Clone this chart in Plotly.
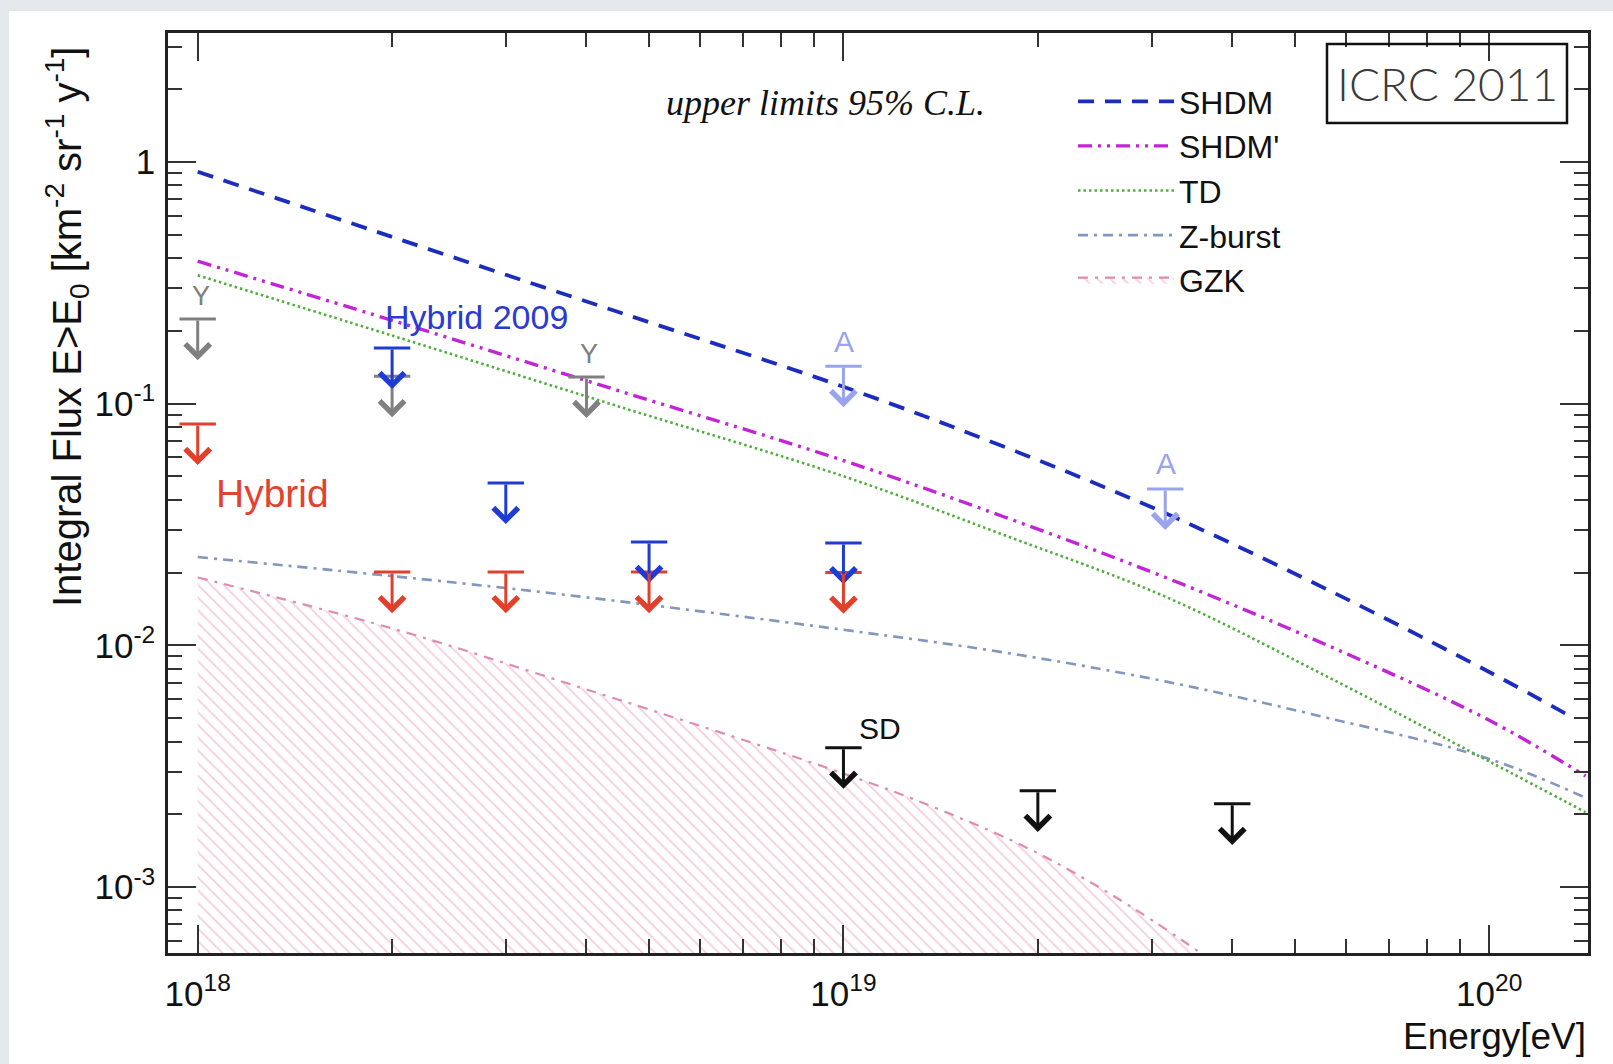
import math
import plotly.graph_objects as go

# ---------------- data ----------------
# model curves: energy [eV] and integral flux [km^-2 sr^-1 y^-1]
shdm_E = [1e18, 2e18, 4.47e18, 1e19, 1.78e19, 3.16e19, 5.62e19, 1e20, 1.35e20]
shdm_F = [0.912, 0.490, 0.240, 0.1175, 0.0661, 0.0351, 0.0170, 0.00776, 0.00501]

shdmp_E = [1e18, 2e18, 4.47e18, 1e19, 1.78e19, 3.16e19, 5.62e19, 1e20, 1.41e20]
shdmp_F = [0.389, 0.2213, 0.1135, 0.0582, 0.0339, 0.01905, 0.0100, 0.0049, 0.00288]

td_E = [1e18, 2e18, 4.47e18, 1e19, 1.78e19, 3.16e19, 5.62e19, 1e20, 1.41e20]
td_F = [0.340, 0.1914, 0.0977, 0.0501, 0.0285, 0.01585, 0.00741, 0.00331, 0.00204]

zb_E = [1e18, 3.16e18, 1e19, 1.78e19, 3.16e19, 5.62e19, 1e20, 1.41e20]
zb_F = [0.0232, 0.0170, 0.0116, 0.00933, 0.00708, 0.00501, 0.00339, 0.00234]

gzk_E = [1e18, 2e18, 3.98e18, 1e19, 1.41e19, 2e19, 2.82e19, 3.98e19]
gzk_F = [0.0191, 0.01175, 0.0066, 0.00295, 0.00209, 0.00138, 0.000813, 0.000437]
gzk_floor = [1e-5] * len(gzk_E)

# upper limits (95% C.L.)
yak_E = [1e18, 2e18, 4e18]
yak_F = [0.224, 0.13, 0.129]
yak_lab = ["Y", "", "Y"]

agasa_E = [1e19, 3.15e19]
agasa_F = [0.143, 0.0444]
agasa_lab = ["A", "A"]

hyb09_E = [2e18, 3e18, 5e18, 1e19]
hyb09_F = [0.17, 0.047, 0.0268, 0.0265]

hyb_E = [1e18, 2e18, 3e18, 5e18, 1e19]
hyb_F = [0.0824, 0.0201, 0.0201, 0.0201, 0.0200]

sd_E = [1e19, 2e19, 4e19]
sd_F = [0.00377, 0.00250, 0.00221]

x_tickvals = [1e18, 1e19, 1e20]
x_ticktext = ["10<sup>18</sup>", "10<sup>19</sup>", "10<sup>20</sup>"]
y_tickvals = [1e-3, 1e-2, 1e-1, 1.0]
y_ticktext = ["10<sup>-3</sup>", "10<sup>-2</sup>", "10<sup>-1</sup>", "1"]
x_minor = [m * 10.0 ** d for d in (17, 18, 19, 20) for m in range(2, 10)]
y_minor = [m * 10.0 ** d for d in (-4, -3, -2, -1, 0) for m in range(2, 10)]

# ---------------- style ----------------
SANS = "Liberation Sans, Arial, Helvetica, sans-serif"
SERIF = "Liberation Serif, Times New Roman, serif"
C_SHDM = "#1c2dbd"
C_SHDMP = "#c224d6"
C_TD = "#4fae3c"
C_ZB = "#8396bd"
C_GZK = "#e08bb2"
C_RED = "#e2402c"
C_BLUE = "#1f3bd6"
C_GRAY = "#808080"
C_ABLUE = "#9aa4ec"
C_BLACK = "#111111"
ARROW_DEC = 0.17  # arrow length in decades of flux

fig = go.Figure()

# GZK hatched band (filled down to below the axis)
fig.add_trace(go.Scatter(x=gzk_E, y=gzk_floor, mode="lines", line=dict(width=0),
                         showlegend=False, hoverinfo="skip"))
fig.add_trace(go.Scatter(
    x=gzk_E, y=gzk_F, mode="lines", name="GZK", legendrank=5,
    line=dict(color=C_GZK, width=2.2, dash="10px,7px,3px,7px", shape="spline"),
    fill="tonexty", fillcolor="rgba(255,255,255,0)",
    fillpattern=dict(shape="\\", fgcolor="#e99bbd", bgcolor="rgba(255,255,255,0)",
                     size=9, solidity=0.2, fillmode="overlay"),
    hoverinfo="skip"))

fig.add_trace(go.Scatter(x=zb_E, y=zb_F, mode="lines", name="Z-burst", legendrank=4,
                         line=dict(color=C_ZB, width=2.6, dash="10px,6px,3px,6px", shape="spline")))
fig.add_trace(go.Scatter(x=td_E, y=td_F, mode="lines", name="TD", legendrank=3,
                         line=dict(color=C_TD, width=2.6, dash="2.5px,3px", shape="spline")))
fig.add_trace(go.Scatter(x=shdmp_E, y=shdmp_F, mode="lines", name="SHDM'", legendrank=2,
                         line=dict(color=C_SHDMP, width=3.4, dash="14px,6px,3px,6px,3px,6px",
                                   shape="spline")))
fig.add_trace(go.Scatter(x=shdm_E, y=shdm_F, mode="lines", name="SHDM", legendrank=1,
                         line=dict(color=C_SHDM, width=3.8, dash="16px,11px", shape="spline")))


def add_limits(E, F, color):
    fig.add_trace(go.Scatter(
        x=E, y=F, mode="markers", showlegend=False, hoverinfo="skip",
        marker=dict(symbol="line-ew", size=26, color=color, line=dict(width=3, color=color))))
    for e, f in zip(E, F):
        fig.add_annotation(
            x=math.log10(e), y=math.log10(f) - ARROW_DEC, xref="x", yref="y",
            ax=math.log10(e), ay=math.log10(f), axref="x", ayref="y",
            text="", showarrow=True, arrowhead=4, arrowsize=1.6, arrowwidth=3,
            arrowcolor=color, standoff=0, startstandoff=0)


def add_labels(E, F, labels, color, size, xshift, yshift):
    for e, f, t in zip(E, F, labels):
        if t:
            fig.add_annotation(x=math.log10(e), y=math.log10(f), xref="x", yref="y",
                               text=t, showarrow=False, xshift=xshift, yshift=yshift,
                               xanchor="center", yanchor="middle",
                               font=dict(family=SANS, size=size, color=color))


add_limits(yak_E, yak_F, C_GRAY)
add_labels(yak_E, yak_F, yak_lab, C_GRAY, 27, 3, 23)
add_limits(agasa_E, agasa_F, C_ABLUE)
add_labels(agasa_E, agasa_F, agasa_lab, C_ABLUE, 30, 1, 25)
add_limits(hyb09_E, hyb09_F, C_BLUE)
add_limits(hyb_E, hyb_F, C_RED)
add_limits(sd_E, sd_F, C_BLACK)
add_labels(sd_E[:1], sd_F[:1], ["SD"], C_BLACK, 30, 37, 19)

# ---------------- text ----------------
W, H = 1613, 1064
L, R, T, B = 168, 1588, 33, 953


def px(xp):
    return (xp - L) / (R - L)


def py(yp):
    return (B - yp) / (B - T)


def paper_text(x, y, text, font, **kw):
    opts = dict(xanchor="center", yanchor="middle")
    opts.update(kw)
    fig.add_annotation(x=px(x), y=py(y), xref="paper", yref="paper", showarrow=False,
                       text=text, font=font, **opts)


paper_text(825, 103, "<i>upper limits 95% C.L.</i>", dict(family=SERIF, size=36, color="#111"))
paper_text(476, 317, "Hybrid 2009", dict(family=SANS, size=34, color="#2a3ad2"))
paper_text(272, 493, "Hybrid", dict(family=SANS, size=39, color="#e2432f"))
paper_text(67, 327,
           "Integral Flux E>E<sub>0</sub> [km<sup>-2</sup> sr<sup>-1</sup> y<sup>-1</sup>]",
           dict(family=SANS, size=40, color="#111"), textangle=-90)
paper_text(R, 1036, "Energy[eV]", dict(family=SANS, size=37, color="#111"), xanchor="right")

# ICRC 2011 box
fig.add_shape(type="rect", xref="paper", yref="paper", x0=px(1327), x1=px(1567),
              y0=py(123), y1=py(44), line=dict(color="#111", width=2.5),
              fillcolor="rgba(0,0,0,0)", layer="above")
paper_text(1447, 84, "ICRC 2011",
           dict(family="Lato, Open Sans, sans-serif", size=46, color="#3a3a3a", weight=300))

# page: grey strips on top/left, white sheet
fig.add_shape(type="rect", xref="paper", yref="paper", x0=px(9), x1=px(W + 5),
              y0=py(H + 5), y1=py(11), fillcolor="white", line=dict(width=0), layer="below")

axis_common = dict(
    type="log", showline=True, linecolor="#222", linewidth=2.5, mirror="ticks",
    ticks="inside", ticklen=28, tickwidth=2, tickcolor="#333", showgrid=False,
    zeroline=False, tickfont=dict(family=SANS, size=35, color="#111"),
)

fig.update_layout(
    width=W, height=H,
    margin=dict(l=L, r=W - R, t=T, b=H - B),
    paper_bgcolor="#e5e8eb", plot_bgcolor="white",
    xaxis=dict(**axis_common, range=[17.954, 20.153], tickmode="array",
               tickvals=x_tickvals, ticktext=x_ticktext, ticklabelstandoff=8,
               minor=dict(tickmode="array", tickvals=x_minor, ticks="inside", ticklen=14,
                          tickwidth=2, tickcolor="#333", showgrid=False)),
    yaxis=dict(**axis_common, range=[-3.273, 0.534], tickmode="array",
               tickvals=y_tickvals, ticktext=y_ticktext, ticklabelstandoff=3,
               minor=dict(tickmode="array", tickvals=y_minor, ticks="inside", ticklen=14,
                          tickwidth=2, tickcolor="#333", showgrid=False)),
    legend=dict(x=px(1073), y=py(74), xanchor="left", yanchor="top",
                traceorder="normal",
                bgcolor="rgba(0,0,0,0)", borderwidth=0, itemwidth=96,
                font=dict(family=SANS, size=32, color="#111"), tracegroupgap=0),
    showlegend=True,
)

fig.write_html("out.html")
